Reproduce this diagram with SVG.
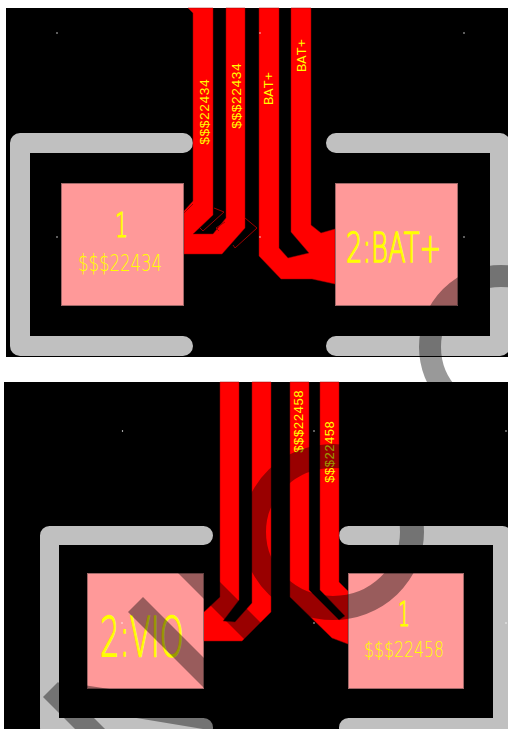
<svg xmlns="http://www.w3.org/2000/svg" width="508" height="729" viewBox="0 0 508 729">
<defs>
<style>
.panel{fill:#000}
.pad{fill:#ff9999;stroke:#a06868;stroke-width:1}
.silk{fill:none;stroke:#c0c0c0;stroke-linecap:round;stroke-linejoin:round}
.trace{fill:#f00;stroke:#900;stroke-width:.5}
.thin{fill:none;stroke:#900;stroke-width:1}
.dot{fill:#fff}
text{fill:#ff0;font-family:"DejaVu Sans",sans-serif;font-weight:200;text-anchor:start}
text.mono{font-family:"Liberation Mono",monospace;font-weight:400}
text.big{stroke:#ff0;stroke-width:1.400}
text.one{stroke:#ff0;stroke-width:1.200}
.shade{fill:none;stroke:#000;stroke-opacity:.4}
.shadef{fill:#000;fill-opacity:.4}
</style>
<clipPath id="clipTop"><rect x="6" y="8" width="502" height="349"/></clipPath>
<clipPath id="clipBottom"><rect x="4" y="382" width="504" height="347"/></clipPath>
</defs>
<rect width="508" height="729" fill="#fff"/>
<g id="board-top">
<rect class="panel" x="6" y="8" width="502" height="349"/>
<g clip-path="url(#clipTop)">
<path class="silk" stroke-width="20" d="M183 143H20V346H183"/>
<path class="silk" stroke-width="20" d="M336 143H500V346H336"/>
</g>
<g id="connectors-top">
<path class="trace" d="M188 8L193 13V201L184 211V254H222L245 228V8H226V218L213 234H193L213 215V8Z"/>
<path class="trace" d="M259 8V256L281 279H312L335 284V229L321 233L311 225V8H291V232L309 253L288 258L279 248V8Z"/>
<path class="thin" d="M184 213L193 204M214 208L224 212L203 231L200 228M225 222L216 228L219 231M245 218L257 228L235 248L233 245"/>
</g>
<g id="pad-1-top">
<rect class="pad" x="61.500" y="183.500" width="122" height="122"/>
<text class="one" x="115" y="237" font-size="33" textLength="13" lengthAdjust="spacingAndGlyphs">1</text>
<text x="78" y="271" font-size="23" textLength="84" lengthAdjust="spacingAndGlyphs">$$$22434</text>
</g>
<g id="pad-2-top">
<rect class="pad" x="335.500" y="183.500" width="122" height="122"/>
<text class="big" x="346" y="262" font-size="41" textLength="95" lengthAdjust="spacingAndGlyphs">2:BAT+</text>
</g>
<g id="labels-top">
<text class="mono" transform="translate(209 145) rotate(-90)" font-size="13" textLength="66" lengthAdjust="spacingAndGlyphs">$$$22434</text>
<text class="mono" transform="translate(241 129) rotate(-90)" font-size="13" textLength="66" lengthAdjust="spacingAndGlyphs">$$$22434</text>
<text class="mono" transform="translate(273 105) rotate(-90)" font-size="13" textLength="33" lengthAdjust="spacingAndGlyphs">BAT+</text>
<text class="mono" transform="translate(306 72) rotate(-90)" font-size="13" textLength="33" lengthAdjust="spacingAndGlyphs">BAT+</text>
</g>
<circle class="dot" cx="57" cy="33" r=".7"/><circle class="dot" cx="260" cy="33" r=".7"/><circle class="dot" cx="464" cy="33" r=".7"/>
<circle class="dot" cx="57" cy="237" r=".7"/><circle class="dot" cx="260" cy="237" r=".7"/><circle class="dot" cx="464" cy="237" r=".7"/>
<circle class="shade" cx="501" cy="347" r="71" stroke-width="22"/>
</g>
<g id="board-bottom">
<rect class="panel" x="4" y="382" width="504" height="347"/>
<g clip-path="url(#clipBottom)">
<path class="silk" stroke-width="19" d="M203.500 535.500H49.500V727.500H203.500"/>
<path class="silk" stroke-width="19" d="M348.500 535.500H502.500V727.500H348.500"/>
</g>
<g id="connectors-bottom">
<path class="trace" d="M220 382V597L203 613V641H242L271 612V382H252V603L235 622L223 621L239 600V382Z"/>
<path class="trace" d="M290 382V597L332 638L348 644V591L339 582V382H320V590L345 616L339 620L309 590V382Z"/>
</g>
<g id="pad-2-bottom">
<rect class="pad" x="87.500" y="573.500" width="116" height="115"/>
<text class="big" x="100" y="656" font-size="56" textLength="84" lengthAdjust="spacingAndGlyphs">2:VIO</text>
</g>
<g id="pad-1-bottom">
<rect class="pad" x="348.500" y="573.500" width="115" height="115"/>
<text class="one" x="398" y="626" font-size="33" textLength="12" lengthAdjust="spacingAndGlyphs">1</text>
<text x="364" y="657" font-size="21" textLength="80" lengthAdjust="spacingAndGlyphs">$$$22458</text>
</g>
<g id="labels-bottom">
<text class="mono" transform="translate(303 453) rotate(-90)" font-size="13" textLength="63" lengthAdjust="spacingAndGlyphs">$$$22458</text>
<text class="mono" transform="translate(334 483) rotate(-90)" font-size="13" textLength="62" lengthAdjust="spacingAndGlyphs">$$$22458</text>
</g>
<circle class="dot" cx="122.500" cy="431" r=".7"/><circle class="dot" cx="314" cy="431" r=".7"/><circle class="dot" cx="506" cy="431" r=".7"/>
<circle class="dot" cx="122" cy="623" r=".7"/><circle class="dot" cx="314" cy="623" r=".7"/><circle class="dot" cx="506" cy="623" r=".7"/>
<g clip-path="url(#clipBottom)">
<ellipse class="shade" cx="333" cy="532" rx="79" ry="76" stroke-width="24"/>
<polygon class="shadef" points="178,573 195,557 262,624 262,657"/>
<polygon class="shadef" points="128,612 143,597 220,674 220,704"/>
<polygon class="shadef" points="43,697 58,682 120,744 90,744"/>
<polygon class="shadef" points="70,683 215,705 215,731 70,707"/>
</g>
</g>
</svg>
